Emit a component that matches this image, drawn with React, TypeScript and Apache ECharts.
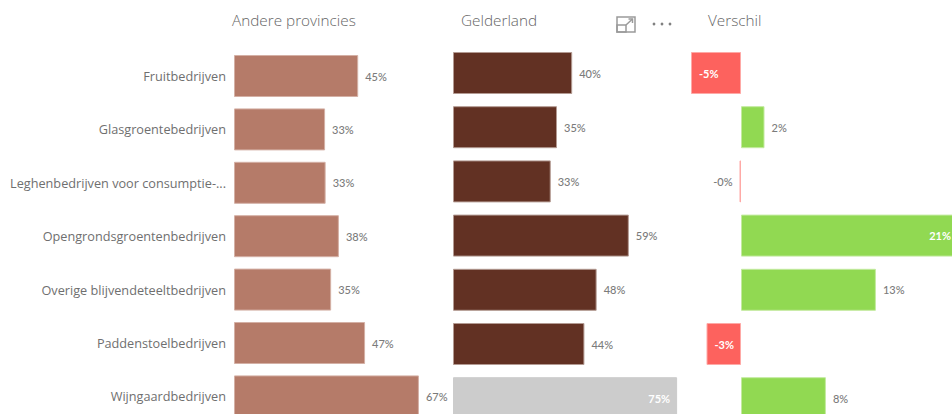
import React, { useEffect, useRef } from "react";
import * as echarts from "echarts";

const categories = [
  "Fruitbedrijven",
  "Glasgroentebedrijven",
  "Leghenbedrijven voor consumptie-...",
  "Opengrondsgroentenbedrijven",
  "Overige blijvendeteeltbedrijven",
  "Paddenstoelbedrijven",
  "Wijngaardbedrijven",
];
const andereProvincies = [45, 33, 33.2, 38, 35.2, 47.49, 67];
const gelderland = [40, 34.9, 32.8, 59, 48.2, 44.1, 75.2];
const verschil = [-5, 2.35, -0.15, 21.2, 13.49, -3.45, 8.49];
const titles = ["Andere provincies", "Gelderland", "Verschil"];
const verschilInside = ["Fruitbedrijven", "Opengrondsgroentenbedrijven", "Paddenstoelbedrijven"];
const greyedGelderland = "Wijngaardbedrijven";

const labelFont = "Lato";
const textFont = "Open Sans";
const labelGrey = "#7b7b7b";

const pct = (p: any) => `${Number(p.value).toFixed(0)}%`;

const valueAxis = (gridIndex: number, min: number, max: number) => ({
  type: "value",
  gridIndex,
  min,
  max,
  show: false,
});

const catAxis = (gridIndex: number, showLabels: boolean) => ({
  type: "category",
  gridIndex,
  data: categories,
  inverse: true,
  axisLine: { show: false },
  axisTick: { show: false },
  splitLine: { show: false },
  axisLabel: showLabels
    ? { show: true, margin: 8, fontFamily: textFont, fontSize: 12.7, color: "#6f6f6f" }
    : { show: false },
});

const outsideLabel = {
  show: true,
  position: "right",
  distance: 7,
  fontFamily: labelFont,
  fontSize: 11,
  fontWeight: 500,
  color: labelGrey,
  formatter: pct,
};

export default function App() {
  const ref = useRef<HTMLDivElement>(null);

  useEffect(() => {
    if (!ref.current) return;
    const chart = echarts.init(ref.current, undefined, { renderer: "svg" });
    const iconStroke = { stroke: "#9a9a9a", lineWidth: 1.5, fill: "none" };
    chart.setOption({
      animation: false,
      backgroundColor: "#ffffff",
      title: [
        { text: titles[0], left: 232, top: 12 },
        { text: titles[1], left: 461, top: 12 },
        { text: titles[2], left: 708, top: 12 },
      ].map((t) => ({
        ...t,
        padding: 0,
        textStyle: { fontFamily: textFont, fontSize: 15.3, fontWeight: 300, color: "#666666" },
      })),
      grid: [
        { left: 234, top: 49.3, width: 276, height: 373.8, outerBoundsMode: "none" },
        { left: 453, top: 45.9, width: 298, height: 379.4, outerBoundsMode: "none" },
        { left: 641, top: 45.9, width: 400, height: 379.4, outerBoundsMode: "none" },
      ],
      xAxis: [valueAxis(0, 0, 100), valueAxis(1, 0, 100), valueAxis(2, -10, 30)],
      yAxis: [catAxis(0, true), catAxis(1, false), catAxis(2, false)],
      series: [
        {
          type: "bar",
          name: titles[0],
          xAxisIndex: 0,
          yAxisIndex: 0,
          barWidth: 42,
          data: andereProvincies,
          itemStyle: { color: "#b57b69", borderColor: "#d4b0a5", borderWidth: 1 },
          label: outsideLabel,
        },
        {
          type: "bar",
          name: titles[1],
          xAxisIndex: 1,
          yAxisIndex: 1,
          barWidth: 42,
          data: gelderland.map((value, i) =>
            categories[i] === greyedGelderland
              ? {
                  value,
                  itemStyle: { color: "#cccccc", borderColor: "#cccccc" },
                  label: { ...outsideLabel, position: "insideRight", color: "#ffffff", fontWeight: 700 },
                }
              : { value }
          ),
          itemStyle: { color: "#623123", borderColor: "#b39a92", borderWidth: 1 },
          label: outsideLabel,
        },
        {
          type: "bar",
          name: titles[2],
          xAxisIndex: 2,
          yAxisIndex: 2,
          barWidth: 42,
          data: verschil.map((value, i) => {
            const neg = value < 0;
            const color = neg ? "#fd625e" : "#91d952";
            const border = neg ? "#fea9a6" : "#c3ea9f";
            const inside = verschilInside.includes(categories[i]);
            return {
              value,
              itemStyle: { color, borderColor: border, borderWidth: 1 },
              label: inside
                ? {
                    ...outsideLabel,
                    position: neg ? "insideLeft" : "insideRight",
                    distance: neg ? 8 : 2,
                    color: "#ffffff",
                    fontWeight: 700,
                  }
                : { ...outsideLabel, position: neg ? "left" : "right" },
            };
          }),
        },
      ],
      graphic: [
        {
          type: "group",
          silent: true,
          children: [
            { type: "rect", shape: { x: 617, y: 17, width: 18, height: 15 }, style: iconStroke },
            { type: "rect", shape: { x: 617, y: 25, width: 9, height: 7 }, style: iconStroke },
            { type: "polyline", shape: { points: [[626, 25], [632.5, 19]] }, style: iconStroke },
            { type: "polyline", shape: { points: [[628.5, 19], [632.5, 19], [632.5, 23]] }, style: iconStroke },
            { type: "circle", shape: { cx: 654, cy: 24, r: 1.4 }, style: { fill: "#808080" } },
            { type: "circle", shape: { cx: 662, cy: 24, r: 1.4 }, style: { fill: "#808080" } },
            { type: "circle", shape: { cx: 670, cy: 24, r: 1.4 }, style: { fill: "#808080" } },
          ],
        },
      ],
    });
    return () => chart.dispose();
  }, []);

  return (
    <div style={{ position: "fixed", left: 0, top: 0, width: 952, height: 414, overflow: "hidden", background: "#fff" }}>
      <div ref={ref} style={{ width: 952, height: 414 }} />
    </div>
  );
}
